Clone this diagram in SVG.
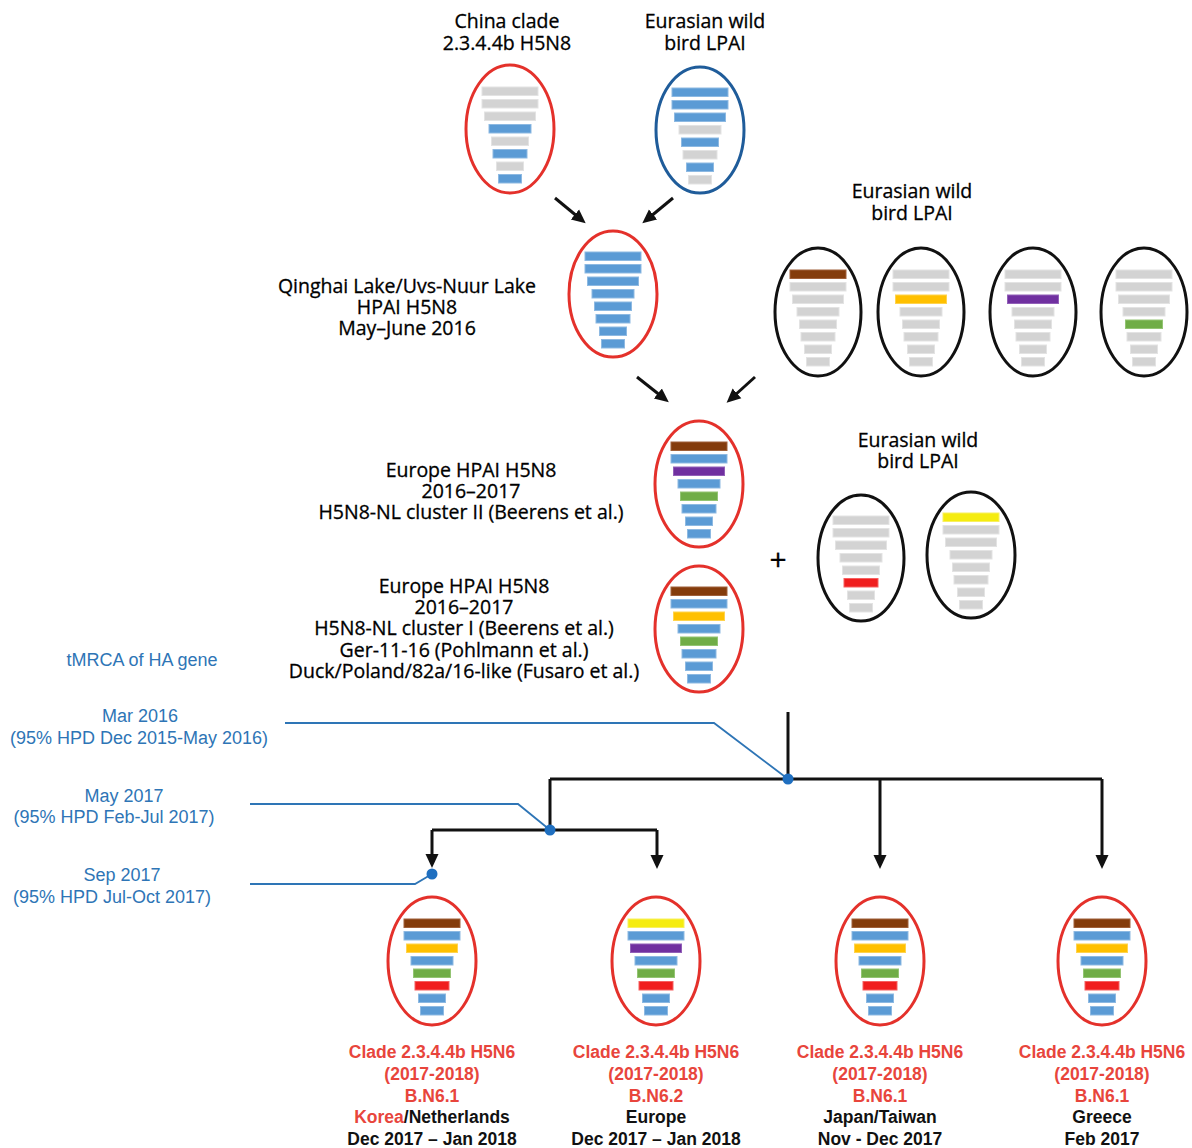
<svg xmlns="http://www.w3.org/2000/svg" width="1192" height="1148" viewBox="0 0 1192 1148">
<style>
.lbl{font-family:"Open Sans","Noto Sans",sans-serif;font-size:19.5px;fill:#000;stroke:#000;stroke-width:0.3;text-anchor:middle}
.blu{font-family:"Liberation Sans",Arial,sans-serif;font-size:18px;fill:#2e75b6;text-anchor:middle}
.res{font-family:"Liberation Sans",Arial,sans-serif;font-size:17.5px;font-weight:bold;text-anchor:middle}
.rt{fill:#e8453c}
.bk{fill:#111}
.ovr{fill:#fff;stroke:#e4312b;stroke-width:3}
.ovb{fill:#fff;stroke:#1f5c9a;stroke-width:3}
.ovk{fill:#fff;stroke:#111;stroke-width:3}
.g{fill:#d3d3d3;stroke:#e3e3e3;stroke-width:1}
.b{fill:#5b9bd5;stroke:#8db9e2;stroke-width:1}
.br{fill:#843c0c;stroke:#a0603a;stroke-width:1}
.o{fill:#ffc000;stroke:#ffd34d;stroke-width:1}
.p{fill:#7030a0;stroke:#9260b8;stroke-width:1}
.gr{fill:#70ad47;stroke:#93c473;stroke-width:1}
.r{fill:#f01e1e;stroke:#f56060;stroke-width:1}
.y{fill:#f5ec10;stroke:#f8f060;stroke-width:1}
.arr{fill:none;stroke:#111;stroke-width:3}
.lead{fill:none;stroke:#2e75b6;stroke-width:1.8}
.dot{fill:#1f6fc0}
</style>
<defs>
<marker id="ah" markerWidth="15" markerHeight="15" refX="4" refY="7" orient="auto" markerUnits="userSpaceOnUse">
<path d="M0,0.5 L14,7 L0,13.5 z" fill="#111"/>
</marker>
</defs>

<!-- labels -->
<g id="labels">
<text class="lbl" x="507" y="28">China clade</text>
<text class="lbl" x="507" y="50">2.3.4.4b H5N8</text>
<text class="lbl" x="705" y="28">Eurasian wild</text>
<text class="lbl" x="705" y="50">bird LPAI</text>
<text class="lbl" x="407" y="293">Qinghai Lake/Uvs-Nuur Lake</text>
<text class="lbl" x="407" y="314">HPAI H5N8</text>
<text class="lbl" x="407" y="335">May–June 2016</text>
<text class="lbl" x="912" y="198">Eurasian wild</text>
<text class="lbl" x="912" y="220">bird LPAI</text>
<text class="lbl" x="471" y="477">Europe HPAI H5N8</text>
<text class="lbl" x="471" y="498">2016–2017</text>
<text class="lbl" x="471" y="519">H5N8-NL cluster II (Beerens et al.)</text>
<text class="lbl" x="464" y="593">Europe HPAI H5N8</text>
<text class="lbl" x="464" y="614">2016–2017</text>
<text class="lbl" x="464" y="635">H5N8-NL cluster I (Beerens et al.)</text>
<text class="lbl" x="464" y="657">Ger-11-16 (Pohlmann et al.)</text>
<text class="lbl" x="464" y="678">Duck/Poland/82a/16-like (Fusaro et al.)</text>
<text class="lbl" x="918" y="447">Eurasian wild</text>
<text class="lbl" x="918" y="468">bird LPAI</text>
<text class="lbl" x="778" y="570" style="font-size:30px">+</text>
<text class="blu" x="142" y="666">tMRCA of HA gene</text>
<text class="blu" x="140" y="722">Mar 2016</text>
<text class="blu" x="139" y="744">(95% HPD Dec 2015-May 2016)</text>
<text class="blu" x="124" y="802">May 2017</text>
<text class="blu" x="114" y="823">(95% HPD Feb-Jul 2017)</text>
<text class="blu" x="122" y="881">Sep 2017</text>
<text class="blu" x="112" y="903">(95% HPD Jul-Oct 2017)</text>
</g>

<!-- ovals -->
<g id="n-china" transform="translate(510,129)">
<ellipse class="ovr" rx="44" ry="64"/>
<rect class="g" x="-28" y="-42" width="56" height="8.5"/><rect class="g" x="-28" y="-29.5" width="56" height="8.5"/><rect class="g" x="-25.5" y="-17" width="51" height="8.5"/><rect class="b" x="-21" y="-4.5" width="42" height="8.5"/><rect class="g" x="-18.5" y="8" width="37" height="8.5"/><rect class="b" x="-17" y="20.5" width="34" height="8.5"/><rect class="g" x="-13.5" y="33" width="27" height="8.5"/><rect class="b" x="-11.5" y="45.5" width="23" height="8.5"/>
</g>
<g id="n-eurasian1" transform="translate(700,130)">
<ellipse class="ovb" rx="44" ry="63"/>
<rect class="b" x="-28" y="-42" width="56" height="8.5"/><rect class="b" x="-28" y="-29.5" width="56" height="8.5"/><rect class="b" x="-25.5" y="-17" width="51" height="8.5"/><rect class="g" x="-21" y="-4.5" width="42" height="8.5"/><rect class="b" x="-18.5" y="8" width="37" height="8.5"/><rect class="g" x="-17" y="20.5" width="34" height="8.5"/><rect class="b" x="-13.5" y="33" width="27" height="8.5"/><rect class="g" x="-11.5" y="45.5" width="23" height="8.5"/>
</g>
<g id="n-qinghai" transform="translate(613,294)">
<ellipse class="ovr" rx="44" ry="63"/>
<rect class="b" x="-28" y="-42" width="56" height="8.5"/><rect class="b" x="-28" y="-29.5" width="56" height="8.5"/><rect class="b" x="-25.5" y="-17" width="51" height="8.5"/><rect class="b" x="-21" y="-4.5" width="42" height="8.5"/><rect class="b" x="-18.5" y="8" width="37" height="8.5"/><rect class="b" x="-17" y="20.5" width="34" height="8.5"/><rect class="b" x="-13.5" y="33" width="27" height="8.5"/><rect class="b" x="-11.5" y="45.5" width="23" height="8.5"/>
</g>
<g id="n-lpai-a" transform="translate(818,312)">
<ellipse class="ovk" rx="43" ry="64"/>
<rect class="br" x="-28" y="-42" width="56" height="8.5"/><rect class="g" x="-28" y="-29.5" width="56" height="8.5"/><rect class="g" x="-25.5" y="-17" width="51" height="8.5"/><rect class="g" x="-21" y="-4.5" width="42" height="8.5"/><rect class="g" x="-18.5" y="8" width="37" height="8.5"/><rect class="g" x="-17" y="20.5" width="34" height="8.5"/><rect class="g" x="-13.5" y="33" width="27" height="8.5"/><rect class="g" x="-11.5" y="45.5" width="23" height="8.5"/>
</g>
<g id="n-lpai-b" transform="translate(921,312)">
<ellipse class="ovk" rx="43" ry="64"/>
<rect class="g" x="-28" y="-42" width="56" height="8.5"/><rect class="g" x="-28" y="-29.5" width="56" height="8.5"/><rect class="o" x="-25.5" y="-17" width="51" height="8.5"/><rect class="g" x="-21" y="-4.5" width="42" height="8.5"/><rect class="g" x="-18.5" y="8" width="37" height="8.5"/><rect class="g" x="-17" y="20.5" width="34" height="8.5"/><rect class="g" x="-13.5" y="33" width="27" height="8.5"/><rect class="g" x="-11.5" y="45.5" width="23" height="8.5"/>
</g>
<g id="n-lpai-c" transform="translate(1033,312)">
<ellipse class="ovk" rx="43" ry="64"/>
<rect class="g" x="-28" y="-42" width="56" height="8.5"/><rect class="g" x="-28" y="-29.5" width="56" height="8.5"/><rect class="p" x="-25.5" y="-17" width="51" height="8.5"/><rect class="g" x="-21" y="-4.5" width="42" height="8.5"/><rect class="g" x="-18.5" y="8" width="37" height="8.5"/><rect class="g" x="-17" y="20.5" width="34" height="8.5"/><rect class="g" x="-13.5" y="33" width="27" height="8.5"/><rect class="g" x="-11.5" y="45.5" width="23" height="8.5"/>
</g>
<g id="n-lpai-d" transform="translate(1144,312)">
<ellipse class="ovk" rx="43" ry="64"/>
<rect class="g" x="-28" y="-42" width="56" height="8.5"/><rect class="g" x="-28" y="-29.5" width="56" height="8.5"/><rect class="g" x="-25.5" y="-17" width="51" height="8.5"/><rect class="g" x="-21" y="-4.5" width="42" height="8.5"/><rect class="gr" x="-18.5" y="8" width="37" height="8.5"/><rect class="g" x="-17" y="20.5" width="34" height="8.5"/><rect class="g" x="-13.5" y="33" width="27" height="8.5"/><rect class="g" x="-11.5" y="45.5" width="23" height="8.5"/>
</g>
<g id="n-cluster2" transform="translate(699,484)">
<ellipse class="ovr" rx="44" ry="63"/>
<rect class="br" x="-28" y="-42" width="56" height="8.5"/><rect class="b" x="-28" y="-29.5" width="56" height="8.5"/><rect class="p" x="-25.5" y="-17" width="51" height="8.5"/><rect class="b" x="-21" y="-4.5" width="42" height="8.5"/><rect class="gr" x="-18.5" y="8" width="37" height="8.5"/><rect class="b" x="-17" y="20.5" width="34" height="8.5"/><rect class="b" x="-13.5" y="33" width="27" height="8.5"/><rect class="b" x="-11.5" y="45.5" width="23" height="8.5"/>
</g>
<g id="n-cluster1" transform="translate(699,629)">
<ellipse class="ovr" rx="44" ry="63"/>
<rect class="br" x="-28" y="-42" width="56" height="8.5"/><rect class="b" x="-28" y="-29.5" width="56" height="8.5"/><rect class="o" x="-25.5" y="-17" width="51" height="8.5"/><rect class="b" x="-21" y="-4.5" width="42" height="8.5"/><rect class="gr" x="-18.5" y="8" width="37" height="8.5"/><rect class="b" x="-17" y="20.5" width="34" height="8.5"/><rect class="b" x="-13.5" y="33" width="27" height="8.5"/><rect class="b" x="-11.5" y="45.5" width="23" height="8.5"/>
</g>
<g id="n-lpai-e" transform="translate(861,558)">
<ellipse class="ovk" rx="43" ry="63"/>
<rect class="g" x="-28" y="-42" width="56" height="8.5"/><rect class="g" x="-28" y="-29.5" width="56" height="8.5"/><rect class="g" x="-25.5" y="-17" width="51" height="8.5"/><rect class="g" x="-21" y="-4.5" width="42" height="8.5"/><rect class="g" x="-18.5" y="8" width="37" height="8.5"/><rect class="r" x="-17" y="20.5" width="34" height="8.5"/><rect class="g" x="-13.5" y="33" width="27" height="8.5"/><rect class="g" x="-11.5" y="45.5" width="23" height="8.5"/>
</g>
<g id="n-lpai-f" transform="translate(971,555)">
<ellipse class="ovk" rx="44" ry="63"/>
<rect class="y" x="-28" y="-42" width="56" height="8.5"/><rect class="g" x="-28" y="-29.5" width="56" height="8.5"/><rect class="g" x="-25.5" y="-17" width="51" height="8.5"/><rect class="g" x="-21" y="-4.5" width="42" height="8.5"/><rect class="g" x="-18.5" y="8" width="37" height="8.5"/><rect class="g" x="-17" y="20.5" width="34" height="8.5"/><rect class="g" x="-13.5" y="33" width="27" height="8.5"/><rect class="g" x="-11.5" y="45.5" width="23" height="8.5"/>
</g>

<g id="n-korea" transform="translate(432,961)">
<ellipse class="ovr" rx="44" ry="64"/>
<rect class="br" x="-28" y="-42" width="56" height="8.5"/><rect class="b" x="-28" y="-29.5" width="56" height="8.5"/><rect class="o" x="-25.5" y="-17" width="51" height="8.5"/><rect class="b" x="-21" y="-4.5" width="42" height="8.5"/><rect class="gr" x="-18.5" y="8" width="37" height="8.5"/><rect class="r" x="-17" y="20.5" width="34" height="8.5"/><rect class="b" x="-13.5" y="33" width="27" height="8.5"/><rect class="b" x="-11.5" y="45.5" width="23" height="8.5"/>
<text class="res rt" x="0" y="97">Clade 2.3.4.4b H5N6</text>
<text class="res rt" x="0" y="119">(2017-2018)</text>
<text class="res rt" x="0" y="141">B.N6.1</text>
<text class="res" x="0" y="162"><tspan class="rt">Korea</tspan><tspan class="bk">/Netherlands</tspan></text>
<text class="res bk" x="0" y="184">Dec 2017 – Jan 2018</text>
</g>
<g id="n-europe" transform="translate(656,961)">
<ellipse class="ovr" rx="44" ry="64"/>
<rect class="y" x="-28" y="-42" width="56" height="8.5"/><rect class="b" x="-28" y="-29.5" width="56" height="8.5"/><rect class="p" x="-25.5" y="-17" width="51" height="8.5"/><rect class="b" x="-21" y="-4.5" width="42" height="8.5"/><rect class="gr" x="-18.5" y="8" width="37" height="8.5"/><rect class="r" x="-17" y="20.5" width="34" height="8.5"/><rect class="b" x="-13.5" y="33" width="27" height="8.5"/><rect class="b" x="-11.5" y="45.5" width="23" height="8.5"/>
<text class="res rt" x="0" y="97">Clade 2.3.4.4b H5N6</text>
<text class="res rt" x="0" y="119">(2017-2018)</text>
<text class="res rt" x="0" y="141">B.N6.2</text>
<text class="res bk" x="0" y="162">Europe</text>
<text class="res bk" x="0" y="184">Dec 2017 – Jan 2018</text>
</g>
<g id="n-japan" transform="translate(880,961)">
<ellipse class="ovr" rx="44" ry="64"/>
<rect class="br" x="-28" y="-42" width="56" height="8.5"/><rect class="b" x="-28" y="-29.5" width="56" height="8.5"/><rect class="o" x="-25.5" y="-17" width="51" height="8.5"/><rect class="b" x="-21" y="-4.5" width="42" height="8.5"/><rect class="gr" x="-18.5" y="8" width="37" height="8.5"/><rect class="r" x="-17" y="20.5" width="34" height="8.5"/><rect class="b" x="-13.5" y="33" width="27" height="8.5"/><rect class="b" x="-11.5" y="45.5" width="23" height="8.5"/>
<text class="res rt" x="0" y="97">Clade 2.3.4.4b H5N6</text>
<text class="res rt" x="0" y="119">(2017-2018)</text>
<text class="res rt" x="0" y="141">B.N6.1</text>
<text class="res bk" x="0" y="162">Japan/Taiwan</text>
<text class="res bk" x="0" y="184">Nov - Dec 2017</text>
</g>
<g id="n-greece" transform="translate(1102,961)">
<ellipse class="ovr" rx="44" ry="64"/>
<rect class="br" x="-28" y="-42" width="56" height="8.5"/><rect class="b" x="-28" y="-29.5" width="56" height="8.5"/><rect class="o" x="-25.5" y="-17" width="51" height="8.5"/><rect class="b" x="-21" y="-4.5" width="42" height="8.5"/><rect class="gr" x="-18.5" y="8" width="37" height="8.5"/><rect class="r" x="-17" y="20.5" width="34" height="8.5"/><rect class="b" x="-13.5" y="33" width="27" height="8.5"/><rect class="b" x="-11.5" y="45.5" width="23" height="8.5"/>
<text class="res rt" x="0" y="97">Clade 2.3.4.4b H5N6</text>
<text class="res rt" x="0" y="119">(2017-2018)</text>
<text class="res rt" x="0" y="141">B.N6.1</text>
<text class="res bk" x="0" y="162">Greece</text>
<text class="res bk" x="0" y="184">Feb 2017</text>
</g>

<!-- connectors -->
<g id="connectors">
<line class="arr" x1="555" y1="198" x2="578" y2="217" marker-end="url(#ah)"/>
<line class="arr" x1="673" y1="198" x2="650" y2="217" marker-end="url(#ah)"/>
<line class="arr" x1="637" y1="377" x2="661" y2="396" marker-end="url(#ah)"/>
<line class="arr" x1="755" y1="377" x2="734" y2="396" marker-end="url(#ah)"/>
<path class="arr" d="M788,712 V779"/>
<path class="arr" d="M550,779 H1102"/>
<path class="arr" d="M550,779 V830"/>
<path class="arr" d="M432,830 H657"/>
<path class="arr" d="M432,830 V858" marker-end="url(#ah)"/>
<path class="arr" d="M657,830 V859" marker-end="url(#ah)"/>
<path class="arr" d="M880,779 V859" marker-end="url(#ah)"/>
<path class="arr" d="M1102,779 V859" marker-end="url(#ah)"/>
<path class="lead" d="M285,723 H714 L788,779"/>
<path class="lead" d="M250,804 H518 L550,830"/>
<path class="lead" d="M250,884 H415 L432,874"/>
<circle class="dot" cx="788" cy="779" r="5.5"/>
<circle class="dot" cx="550" cy="830" r="5.5"/>
<circle class="dot" cx="432" cy="874" r="5.5"/>
</g>
</svg>
